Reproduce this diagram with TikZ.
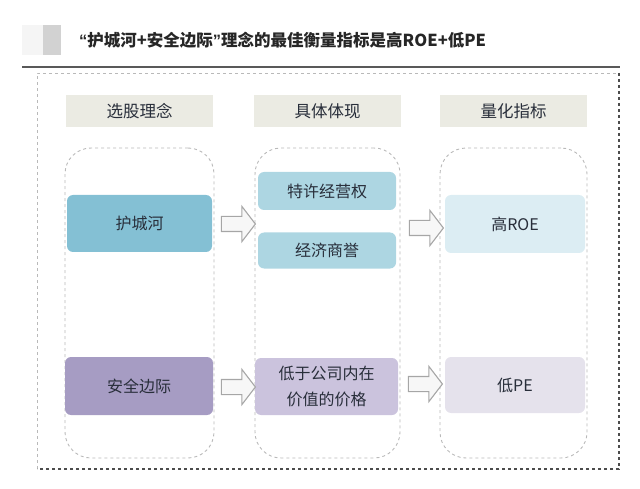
\documentclass[tikz,border=0pt]{standalone}
\usepackage{fontspec}
\setmainfont{Noto Sans CJK SC}
\newfontfamily\lat{Liberation Sans}
\usetikzlibrary{shapes.arrows}
\definecolor{hdrfill}{RGB}{235,235,227}
\definecolor{moatc}{RGB}{132,192,212}
\definecolor{bluec}{RGB}{173,214,226}
\definecolor{paleblue}{RGB}{220,237,243}
\definecolor{purc}{RGB}{166,156,195}
\definecolor{lpurc}{RGB}{203,195,221}
\definecolor{palepur}{RGB}{229,226,236}
\definecolor{txtc}{RGB}{40,46,58}
\definecolor{dashc}{RGB}{185,185,185}
\tikzset{
  x=1pt, y=1pt,
  hdr/.style={fill=hdrfill, draw=none, minimum width=147pt, minimum height=32pt, font=\fontsize{16.5}{18}\selectfont, text=txtc, inner sep=0},
  colbox/.style={draw=dashc, dashed, line width=0.9pt, rounded corners=26pt, minimum width=147pt, minimum height=310pt},
  fbox/.style={rounded corners=6pt, draw=none, font=\fontsize{16}{26}\selectfont, text=txtc, align=center, inner sep=0},
  blockarrow/.style={shape=single arrow, draw=gray!70, fill=gray!6, line width=1.1pt, minimum height=34pt, inner xsep=0pt, inner ysep=7pt, single arrow head extend=10pt, single arrow tip angle=105},
}
\begin{document}
\begin{tikzpicture}
\useasboundingbox (0,0) rectangle (640,-489);
% title
\fill[gray!8] (22,-25) rectangle (43,-55);
\fill[gray!35] (43,-25) rectangle (61,-55);
\node[anchor=west, font=\fontsize{16.5}{20}\selectfont\bfseries, text=black!85, inner sep=0] (title) at (79,-40) {{\lat “}护城河+安全边际{\lat ”}理念的最佳衡量指标是高ROE+低PE};
\coordinate (hl) at (22,-67);
\coordinate (hr) at (620,-67);
\draw[black!65, line width=1.3pt] (hl) -- (hr);
% outer frame
\coordinate (otl) at (37,-73);
\coordinate (otr) at (619,-73);
\coordinate (obl) at (37,-469);
\coordinate (obr) at (619,-469);
\draw[gray!55, dashed, line width=0.8pt] (obl) -- (otl) -- (otr);
\draw[black!70, dashed, line width=1.6pt] (otr) -- (obr) -- (obl);
% headers
\node[hdr] (h1) at (139.5,-111) {选股理念};
\node[hdr] (h2) at (327.5,-111) {具体体现};
\node[hdr] (h3) at (513.5,-111) {量化指标};
% column boxes
\node[colbox, minimum width=149pt] (c1) at (139.5,-303) {};
\node[colbox, minimum width=145pt] (c2) at (327.5,-303) {};
\node[colbox, minimum width=147pt] (c3) at (513.5,-303) {};
% filled boxes
\node[fbox, fill=moatc, minimum width=145pt, minimum height=57pt] (moat) at (139.5,-223.5) {护城河};
\node[fbox, fill=bluec, minimum width=138pt, minimum height=38pt] (fr) at (327,-191) {特许经营权};
\node[fbox, fill=bluec, minimum width=138pt, minimum height=36pt] (gw) at (327,-250.5) {经济商誉};
\node[fbox, fill=paleblue, minimum width=140pt, minimum height=58pt] (roe) at (515,-224) {高ROE};
\node[fbox, fill=purc, minimum width=148pt, minimum height=58pt] (mg) at (139,-386) {安全边际};
\node[fbox, fill=lpurc, minimum width=143pt, minimum height=57pt] (pr) at (326.5,-386.5) {低于公司内在\\价值的价格};
\node[fbox, fill=palepur, minimum width=140pt, minimum height=56pt] (pe) at (515,-385) {低PE};
% block arrows
\node[blockarrow] (a1) at (235.5,-224) {};
\node[blockarrow] (a2) at (423.5,-228) {};
\node[blockarrow] (a3) at (235.5,-387) {};
\node[blockarrow] (a4) at (422.5,-384) {};
\end{tikzpicture}
\end{document}
